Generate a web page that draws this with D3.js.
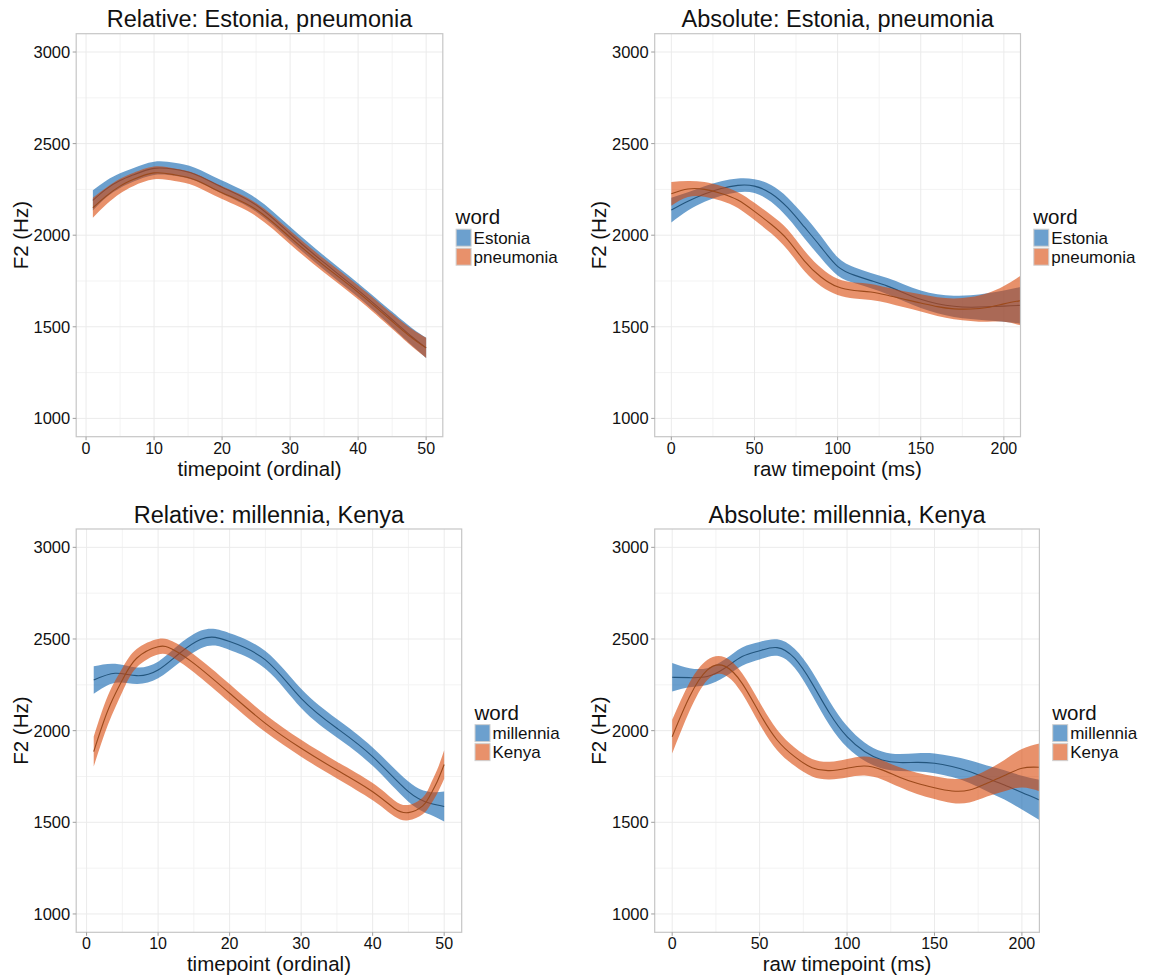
<!DOCTYPE html>
<html>
<head>
<meta charset="utf-8">
<title>F2 trajectories</title>
<script src="https://cdn.jsdelivr.net/npm/d3@7"></script>
<style>
  body { margin: 0; background: #fff; }
  text { font-family: "Liberation Sans", Arial, Helvetica, sans-serif; fill: #111; }
</style>
</head>
<body>
<script>
// ---- data (F2 in Hz) ----
// top left: relative time, Estonia vs pneumonia
var relTimeA = [1, 3, 5, 7, 10, 13, 16, 20, 25, 30, 35, 40, 45, 48, 50];
var estoniaRelMean = [2190, 2253, 2298, 2330, 2365, 2360, 2333, 2262, 2165, 2008, 1850, 1700, 1540, 1443, 1385];
var estoniaRelHW   = [55, 46, 40, 37, 36, 35, 35, 36, 37, 38, 38, 38, 42, 48, 55];
var pneumoniaRelMean = [2150, 2215, 2268, 2305, 2340, 2330, 2303, 2232, 2140, 1988, 1834, 1688, 1530, 1437, 1385];
var pneumoniaRelHW   = [55, 46, 40, 36, 35, 34, 34, 35, 36, 37, 37, 37, 41, 48, 55];

// top right: absolute time (ms), Estonia vs pneumonia
var absTime = [0, 10, 20, 30, 40, 50, 60, 70, 80, 90, 100, 110, 120, 130, 140, 150, 160, 170, 180, 190, 200, 210];
var estoniaAbsMean = [2137, 2185, 2225, 2255, 2272, 2268, 2228, 2150, 2045, 1935, 1830, 1782, 1752, 1722, 1685, 1650, 1626, 1612, 1607, 1609, 1613, 1617];
var estoniaAbsHW   = [67, 50, 42, 40, 38, 38, 46, 55, 61, 60, 50, 43, 42, 44, 46, 48, 52, 58, 65, 74, 85, 100];
var pneumoniaAbsMean = [2226, 2252, 2250, 2228, 2192, 2130, 2060, 1975, 1860, 1772, 1718, 1698, 1690, 1672, 1650, 1630, 1610, 1598, 1597, 1605, 1625, 1643];
var pneumoniaAbsHW   = [65, 44, 40, 40, 43, 47, 50, 56, 56, 50, 44, 44, 44, 42, 44, 47, 51, 57, 65, 78, 98, 135];

// bottom left: relative time, millennia vs Kenya
var millenniaRelTime = [1, 4, 7, 10, 13, 16, 18, 20, 25, 30, 35, 40, 45, 48, 50];
var millenniaRelMean = [2276, 2313, 2300, 2331, 2422, 2498, 2509, 2486, 2386, 2176, 2013, 1858, 1667, 1604, 1586];
var millenniaRelHW   = [75, 52, 45, 45, 50, 48, 45, 46, 48, 52, 50, 50, 55, 62, 82];
var kenyaRelTime = [1, 3, 5, 7, 10, 12, 15, 20, 25, 30, 35, 40, 43, 45, 47, 48, 49, 50];
var kenyaRelMean = [1886, 2113, 2276, 2395, 2458, 2444, 2367, 2204, 2040, 1904, 1785, 1667, 1577, 1553, 1590, 1645, 1720, 1815];
var kenyaRelHW   = [82, 80, 65, 50, 42, 43, 48, 50, 48, 46, 46, 47, 44, 42, 46, 55, 65, 78];

// bottom right: absolute time (ms), millennia vs Kenya
var millenniaAbsMean = [2291, 2289, 2295, 2340, 2404, 2436, 2453, 2395, 2258, 2095, 1967, 1886, 1840, 1826, 1827, 1822, 1804, 1777, 1740, 1704, 1662, 1622];
var millenniaAbsHW   = [78, 52, 46, 48, 50, 48, 45, 52, 65, 66, 58, 50, 46, 46, 50, 54, 57, 62, 70, 80, 92, 110];
var kenyaAbsMean = [1967, 2186, 2330, 2352, 2258, 2095, 1949, 1858, 1798, 1782, 1795, 1807, 1786, 1746, 1713, 1689, 1671, 1676, 1713, 1755, 1795, 1800];
var kenyaAbsHW   = [92, 78, 55, 48, 55, 60, 56, 50, 48, 48, 50, 52, 52, 54, 58, 62, 66, 68, 72, 85, 105, 130];

// axes
var yTicks = [1000, 1500, 2000, 2500, 3000];
var yMinor = [1250, 1750, 2250, 2750];
var relTicks = [0, 10, 20, 30, 40, 50];
var relMinor = [5, 15, 25, 35, 45];
var absTicks = [0, 50, 100, 150, 200];
var absMinor = [25, 75, 125, 175];

var fillCol = ["#025bab", "#d84200"];
var lineCol = ["#23557d", "#9c4a1c"];

var panels = [
  { title: "Relative: Estonia, pneumonia", left: 76.2, right: 442.8, top: 33.7, bottom: 436.7,
    xDomain: [-1.45, 52.45], xTicks: relTicks, xMinor: relMinor, xLabel: "timepoint (ordinal)",
    series: [
      { word: "Estonia", t: relTimeA, m: estoniaRelMean, hw: estoniaRelHW },
      { word: "pneumonia", t: relTimeA, m: pneumoniaRelMean, hw: pneumoniaRelHW } ] },
  { title: "Absolute: Estonia, pneumonia", left: 654.7, right: 1020.5, top: 33.7, bottom: 436.7,
    xDomain: [-10, 210], xTicks: absTicks, xMinor: absMinor, xLabel: "raw timepoint (ms)",
    series: [
      { word: "Estonia", t: absTime, m: estoniaAbsMean, hw: estoniaAbsHW },
      { word: "pneumonia", t: absTime, m: pneumoniaAbsMean, hw: pneumoniaAbsHW } ] },
  { title: "Relative: millennia, Kenya", left: 76.2, right: 461.7, top: 529, bottom: 932.3,
    xDomain: [-1.45, 52.45], xTicks: relTicks, xMinor: relMinor, xLabel: "timepoint (ordinal)",
    series: [
      { word: "millennia", t: millenniaRelTime, m: millenniaRelMean, hw: millenniaRelHW },
      { word: "Kenya", t: kenyaRelTime, m: kenyaRelMean, hw: kenyaRelHW } ] },
  { title: "Absolute: millennia, Kenya", left: 654.7, right: 1039.4, top: 529, bottom: 932.3,
    xDomain: [-10, 210], xTicks: absTicks, xMinor: absMinor, xLabel: "raw timepoint (ms)",
    series: [
      { word: "millennia", t: absTime, m: millenniaAbsMean, hw: millenniaAbsHW },
      { word: "Kenya", t: absTime, m: kenyaAbsMean, hw: kenyaAbsHW } ] }
];

var svg = d3.select("body").append("svg")
  .attr("width", 1149)
  .attr("height", 975);

panels.forEach(function (p, pi) {
  var x = d3.scaleLinear().domain(p.xDomain).range([p.left, p.right]);
  var y = d3.scaleLinear().domain([900, 3100]).range([p.bottom, p.top]);
  var g = svg.append("g");
  var cx = (p.left + p.right) / 2, cy = (p.top + p.bottom) / 2;

  g.append("clipPath").attr("id", "clip" + pi)
    .append("rect")
    .attr("x", p.left).attr("y", p.top)
    .attr("width", p.right - p.left).attr("height", p.bottom - p.top);

  // grid
  var grid = g.append("g");
  grid.selectAll(".hmin").data(yMinor).enter().append("line")
    .attr("x1", p.left).attr("x2", p.right)
    .attr("y1", function (d) { return y(d); }).attr("y2", function (d) { return y(d); })
    .attr("stroke", "#f3f3f3").attr("stroke-width", 1);
  grid.selectAll(".vmin").data(p.xMinor).enter().append("line")
    .attr("y1", p.top).attr("y2", p.bottom)
    .attr("x1", function (d) { return x(d); }).attr("x2", function (d) { return x(d); })
    .attr("stroke", "#f3f3f3").attr("stroke-width", 1);
  grid.selectAll(".hmaj").data(yTicks).enter().append("line")
    .attr("x1", p.left).attr("x2", p.right)
    .attr("y1", function (d) { return y(d); }).attr("y2", function (d) { return y(d); })
    .attr("stroke", "#ebebeb").attr("stroke-width", 1);
  grid.selectAll(".vmaj").data(p.xTicks).enter().append("line")
    .attr("y1", p.top).attr("y2", p.bottom)
    .attr("x1", function (d) { return x(d); }).attr("x2", function (d) { return x(d); })
    .attr("stroke", "#ebebeb").attr("stroke-width", 1);

  // ribbons and smooth lines
  var marks = g.append("g").attr("clip-path", "url(#clip" + pi + ")");
  p.series.forEach(function (s, si) {
    var pts = s.t.map(function (t, i) { return { t: t, m: s.m[i], hw: s.hw[i] }; });
    var area = d3.area()
      .x(function (d) { return x(d.t); })
      .y0(function (d) { return y(d.m - d.hw); })
      .y1(function (d) { return y(d.m + d.hw); })
      .curve(d3.curveNatural);
    var line = d3.line()
      .x(function (d) { return x(d.t); })
      .y(function (d) { return y(d.m); })
      .curve(d3.curveNatural);
    marks.append("path").datum(pts)
      .attr("d", area)
      .attr("fill", fillCol[si]).attr("fill-opacity", 0.58);
    marks.append("path").datum(pts)
      .attr("d", line)
      .attr("fill", "none").attr("stroke", lineCol[si]).attr("stroke-width", 1.1);
  });

  // panel border
  g.append("rect")
    .attr("x", p.left).attr("y", p.top)
    .attr("width", p.right - p.left).attr("height", p.bottom - p.top)
    .attr("fill", "none").attr("stroke", "#c6c6c6").attr("stroke-width", 1.2);

  // y axis
  var yAxis = g.append("g");
  yAxis.selectAll("line").data(yTicks).enter().append("line")
    .attr("x1", p.left - 3.5).attr("x2", p.left)
    .attr("y1", function (d) { return y(d); }).attr("y2", function (d) { return y(d); })
    .attr("stroke", "#9e9e9e").attr("stroke-width", 1);
  yAxis.selectAll("text").data(yTicks).enter().append("text")
    .attr("x", p.left - 6).attr("y", function (d) { return y(d); })
    .attr("dy", "0.36em").attr("text-anchor", "end")
    .style("font-size", "16.5px")
    .text(function (d) { return d; });

  // x axis
  var xAxis = g.append("g");
  xAxis.selectAll("line").data(p.xTicks).enter().append("line")
    .attr("y1", p.bottom).attr("y2", p.bottom + 3.5)
    .attr("x1", function (d) { return x(d); }).attr("x2", function (d) { return x(d); })
    .attr("stroke", "#9e9e9e").attr("stroke-width", 1);
  xAxis.selectAll("text").data(p.xTicks).enter().append("text")
    .attr("x", function (d) { return x(d); }).attr("y", p.bottom + 17)
    .attr("text-anchor", "middle")
    .style("font-size", "16px")
    .text(function (d) { return d; });

  // titles
  g.append("text").attr("x", cx).attr("y", p.top - 6.5)
    .attr("text-anchor", "middle").style("font-size", "23.5px")
    .text(p.title);
  g.append("text").attr("x", cx).attr("y", p.bottom + 39)
    .attr("text-anchor", "middle").style("font-size", "20.5px")
    .text(p.xLabel);
  g.append("text")
    .attr("transform", "translate(" + (p.left - 48.5) + "," + cy + ") rotate(-90)")
    .attr("text-anchor", "middle").style("font-size", "20.5px")
    .text("F2 (Hz)");

  // legend
  var lx = p.right + 12.8;
  var leg = g.append("g");
  leg.append("text").attr("x", lx).attr("y", cy - 11)
    .style("font-size", "20.5px").text("word");
  p.series.forEach(function (s, si) {
    var ky = cy - 6.5 + si * 19;
    leg.append("rect")
      .attr("x", lx + 0.5).attr("y", ky + 0.5)
      .attr("width", 15).attr("height", 17)
      .attr("fill", fillCol[si]).attr("fill-opacity", 0.58)
      .attr("stroke", "#d0d0d0").attr("stroke-width", 1);
    leg.append("text").attr("x", lx + 18).attr("y", ky + 15)
      .style("font-size", "17px").text(s.word);
  });
});
</script>
</body>
</html>
